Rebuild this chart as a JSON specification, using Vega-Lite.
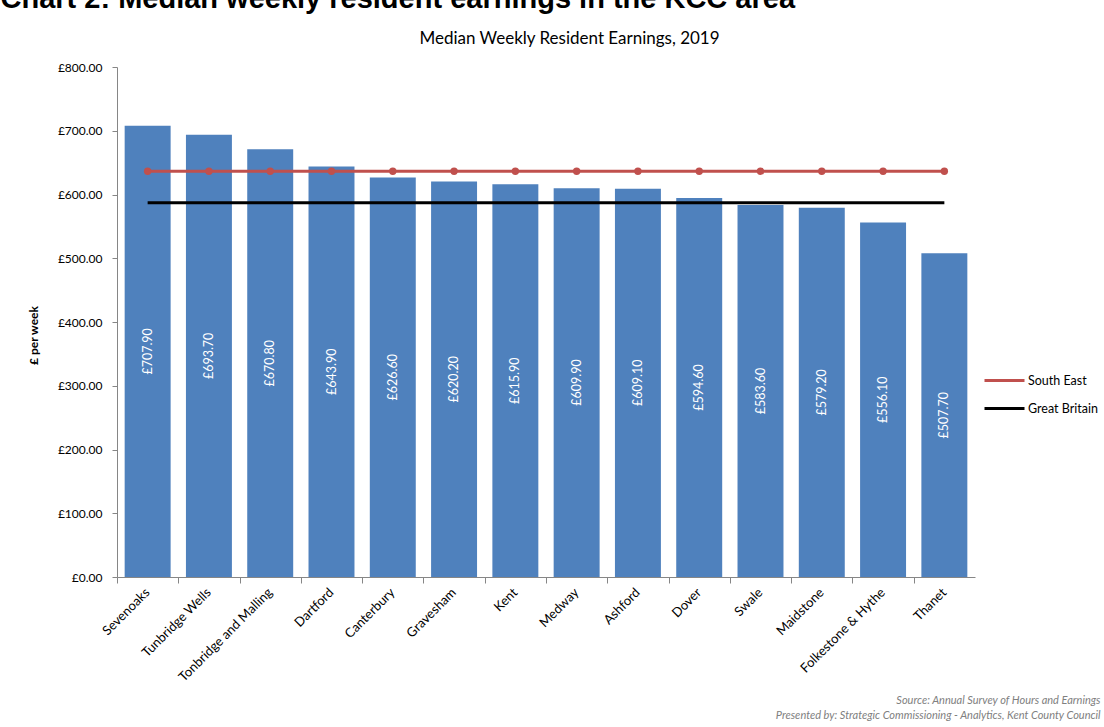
{
  "$schema": "https://vega.github.io/schema/vega-lite/v6.json",
  "autosize": "none",
  "width": 858,
  "height": 510,
  "padding": {"left": 117, "top": 67, "right": 129, "bottom": 150},
  "background": "white",
  "config": {
    "view": {"stroke": null},
    "font": "Lato",
    "locale": {"number": {"decimal": ".", "thousands": ",", "grouping": [3], "currency": ["£", ""]}}
  },
  "datasets": {
    "earnings": [
      {"area": "Sevenoaks", "earnings": 707.9},
      {"area": "Tunbridge Wells", "earnings": 693.7},
      {"area": "Tonbridge and Malling", "earnings": 670.8},
      {"area": "Dartford", "earnings": 643.9},
      {"area": "Canterbury", "earnings": 626.6},
      {"area": "Gravesham", "earnings": 620.2},
      {"area": "Kent", "earnings": 615.9},
      {"area": "Medway", "earnings": 609.9},
      {"area": "Ashford", "earnings": 609.1},
      {"area": "Dover", "earnings": 594.6},
      {"area": "Swale", "earnings": 583.6},
      {"area": "Maidstone", "earnings": 579.2},
      {"area": "Folkestone & Hythe", "earnings": 556.1},
      {"area": "Thanet", "earnings": 507.7}
    ],
    "benchmarks": [
      {"area": "Sevenoaks", "series": "South East", "value": 636.4},
      {"area": "Tunbridge Wells", "series": "South East", "value": 636.4},
      {"area": "Tonbridge and Malling", "series": "South East", "value": 636.4},
      {"area": "Dartford", "series": "South East", "value": 636.4},
      {"area": "Canterbury", "series": "South East", "value": 636.4},
      {"area": "Gravesham", "series": "South East", "value": 636.4},
      {"area": "Kent", "series": "South East", "value": 636.4},
      {"area": "Medway", "series": "South East", "value": 636.4},
      {"area": "Ashford", "series": "South East", "value": 636.4},
      {"area": "Dover", "series": "South East", "value": 636.4},
      {"area": "Swale", "series": "South East", "value": 636.4},
      {"area": "Maidstone", "series": "South East", "value": 636.4},
      {"area": "Folkestone & Hythe", "series": "South East", "value": 636.4},
      {"area": "Thanet", "series": "South East", "value": 636.4},
      {"area": "Sevenoaks", "series": "Great Britain", "value": 587.0},
      {"area": "Tunbridge Wells", "series": "Great Britain", "value": 587.0},
      {"area": "Tonbridge and Malling", "series": "Great Britain", "value": 587.0},
      {"area": "Dartford", "series": "Great Britain", "value": 587.0},
      {"area": "Canterbury", "series": "Great Britain", "value": 587.0},
      {"area": "Gravesham", "series": "Great Britain", "value": 587.0},
      {"area": "Kent", "series": "Great Britain", "value": 587.0},
      {"area": "Medway", "series": "Great Britain", "value": 587.0},
      {"area": "Ashford", "series": "Great Britain", "value": 587.0},
      {"area": "Dover", "series": "Great Britain", "value": 587.0},
      {"area": "Swale", "series": "Great Britain", "value": 587.0},
      {"area": "Maidstone", "series": "Great Britain", "value": 587.0},
      {"area": "Folkestone & Hythe", "series": "Great Britain", "value": 587.0},
      {"area": "Thanet", "series": "Great Britain", "value": 587.0}
    ]
  },
  "resolve": {"axis": {"x": "independent", "y": "independent"}},
  "layer": [
    {
      "data": {"name": "earnings"},
      "mark": {"type": "bar", "color": "#4F81BD"},
      "encoding": {
        "x": {
          "field": "area", "type": "nominal", "sort": null,
          "scale": {"paddingInner": 0.25, "paddingOuter": 0.125},
          "axis": {
            "orient": "bottom",
            "domain": false, "ticks": false, "grid": false,
            "labelAngle": -45, "labelAlign": "right", "labelBaseline": "middle",
            "labelPadding": 13, "labelFontSize": 13, "labelColor": "#000000", "labelFont": "Lato",
            "labelLimit": 300,
            "title": ["Source: Annual Survey of Hours and Earnings", "Presented by: Strategic Commissioning - Analytics, Kent County Council"],
            "titleFont": "Lato", "titleFontStyle": "italic", "titleFontWeight": "normal", "titleFontSize": 11,
            "titleColor": "#808080", "titleAlign": "right", "titleAnchor": null,
            "titleX": 983, "titleY": 126, "titleBaseline": "alphabetic", "titleLineHeight": 15
          }
        },
        "y": {
          "field": "earnings", "type": "quantitative",
          "scale": {"domain": [0, 800], "nice": false},
          "axis": {
            "orient": "left",
            "values": [0, 100, 200, 300, 400, 500, 600, 700, 800],
            "format": "$.2f",
            "grid": false,
            "domainColor": "#868686", "tickColor": "#868686", "tickSize": 5,
            "labelPadding": 10, "labelFontSize": 12, "labelColor": "#000000", "labelFont": "Lato",
            "title": "£ per week",
            "titleFont": "Lato", "titleFontSize": 12, "titleFontWeight": "bold", "titleColor": "#000000",
            "titleAngle": -90, "titleX": -84, "titleY": 268, "titleAlign": "center", "titleBaseline": "middle"
          }
        }
      }
    },
    {
      "data": {"name": "earnings"},
      "transform": [{"calculate": "datum.earnings / 2", "as": "mid"}],
      "mark": {"type": "text", "angle": 270, "color": "#FFFFFF", "fontSize": 12.5, "font": "Lato", "align": "center", "baseline": "middle"},
      "encoding": {
        "x": {
          "field": "area", "type": "nominal", "sort": null,
          "axis": {
            "orient": "top", "domain": false, "ticks": false, "labels": false, "grid": false,
            "title": "Chart 2: Median weekly resident earnings in the KCC area",
            "titleFont": "Liberation Sans", "titleFontSize": 29, "titleFontWeight": "bold", "titleColor": "#000000",
            "titleX": -117, "titleY": -60, "titleAlign": "left", "titleAnchor": null, "titleBaseline": "alphabetic"
          }
        },
        "y": {"field": "mid", "type": "quantitative", "axis": null},
        "text": {"field": "earnings", "type": "quantitative", "format": "$.2f"}
      }
    },
    {
      "data": {"name": "benchmarks"},
      "mark": {"type": "line", "strokeWidth": 3},
      "encoding": {
        "x": {
          "field": "area", "type": "nominal", "sort": null,
          "axis": {
            "orient": "top", "domain": false, "ticks": false, "labels": false, "grid": false,
            "title": "Median Weekly Resident Earnings, 2019",
            "titleFont": "Lato", "titleFontSize": 17, "titleFontWeight": "normal", "titleColor": "#000000",
            "titleX": 452, "titleY": -24, "titleAlign": "center", "titleAnchor": null, "titleBaseline": "alphabetic"
          }
        },
        "y": {"field": "value", "type": "quantitative", "axis": null},
        "color": {
          "field": "series", "type": "nominal",
          "scale": {"domain": ["South East", "Great Britain"], "range": ["#C0504D", "#000000"]},
          "legend": {
            "title": null, "orient": "none", "legendX": 866, "legendY": 292,
            "symbolType": "stroke", "symbolSize": 1600, "symbolStrokeWidth": 3,
            "rowPadding": -16, "labelFontSize": 12.5, "labelFont": "Lato", "labelColor": "#000000", "labelOffset": 2
          }
        }
      }
    },
    {
      "data": {"name": "benchmarks"},
      "transform": [{"filter": "datum.series === 'South East'"}],
      "mark": {"type": "point", "filled": true, "size": 55, "opacity": 1, "color": "#C0504D"},
      "encoding": {
        "x": {
          "field": "area", "type": "nominal", "sort": null,
          "axis": {
            "orient": "bottom", "labels": false, "grid": false, "title": null,
            "domain": true, "domainColor": "#868686",
            "ticks": true, "tickColor": "#868686", "tickSize": 6,
            "bandPosition": 0, "tickOffset": -7.66
          }
        },
        "y": {"field": "value", "type": "quantitative", "axis": null}
      }
    }
  ]
}
